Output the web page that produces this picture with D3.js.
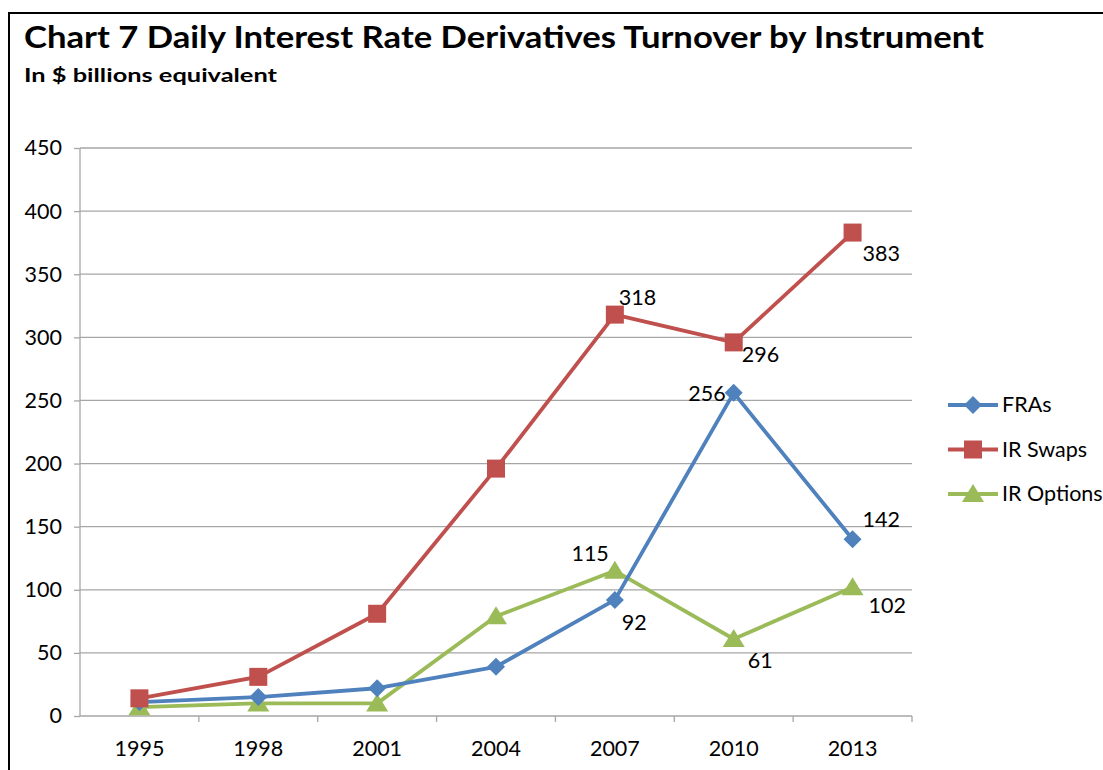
<!DOCTYPE html>
<html><head><meta charset="utf-8">
<script src="https://cdn.jsdelivr.net/npm/d3@7"></script>
<style>body{margin:0;background:#fff}svg{display:block}</style>
</head><body>
<script>
const years = ["1995","1998","2001","2004","2007","2010","2013"];
const fras = [11, 15, 22, 39, 92, 256, 140];
const swaps = [14, 31, 81, 196, 318, 296, 383];
const options = [7, 10, 10, 79, 115, 61, 102];
const seriesNames = ["FRAs","IR Swaps","IR Options"];
const yTicks = [0,50,100,150,200,250,300,350,400,450];
// labels shown: [seriesIndex, yearIndex, text, dx, dy, anchor]
const labels = [
  [1,4,"318",4,-10,"start"],[1,5,"296",8,20,"start"],[1,6,"383",10,28,"start"],
  [0,5,"256",-8,8,"end"],[0,6,"142",10,-12,"start"],[0,4,"92",7,30,"start"],
  [2,4,"115",-6,-10,"end"],[2,5,"61",14,29,"start"],[2,6,"102",16,26,"start"]
];
const colors = ["#4F81BD","#C0504D","#9BBB59"];
const data = [fras, swaps, options];
const W=1103,H=770;
const svg=d3.select("body").append("svg").attr("width",W).attr("height",H);
const font="Lato, 'Open Sans', sans-serif";
const fs=21.5;
// frame
svg.append("path").attr("d",`M9,${H} V13 H${W}`).attr("fill","none").attr("stroke","#000").attr("stroke-width",2);
svg.append("text").attr("x",24).attr("y",48).attr("font-family",font).attr("font-weight","bold")
  .attr("font-size",30).attr("textLength",960).attr("lengthAdjust","spacingAndGlyphs").attr("fill","#000")
  .text("Chart 7 Daily Interest Rate Derivatives Turnover by Instrument");
svg.append("text").attr("x",24).attr("y",82).attr("font-family",font).attr("font-weight","bold")
  .attr("font-size",18).attr("textLength",253).attr("lengthAdjust","spacingAndGlyphs").attr("fill","#000")
  .text("In $ billions equivalent");
const x=d3.scaleBand().domain(years).range([80,912]);
const y=d3.scaleLinear().domain([0,450]).range([716,148]);
const grid="#a6a6a6";
svg.append("g").selectAll("line").data(yTicks.filter(d=>d>0)).join("line")
  .attr("x1",80).attr("x2",912).attr("y1",d=>y(d)).attr("y2",d=>y(d)).attr("stroke",grid).attr("stroke-width",1.3);
const ya=svg.append("g").attr("transform","translate(80,0)").call(d3.axisLeft(y).tickValues(yTicks).tickSize(6).tickPadding(12));
const xa=svg.append("g").attr("transform","translate(0,716)").call(d3.axisBottom(x).tickSize(0).tickPadding(25));
[ya,xa].forEach(a=>{a.selectAll("path,line").attr("stroke",grid).attr("stroke-width",1.3);
  a.selectAll("text").attr("font-family",font).attr("font-size",fs).attr("fill","#000");});
ya.select(".domain").attr("d","M0,148V716");
xa.select(".domain").attr("d","M80,0H912");
// band boundary ticks
svg.append("g").selectAll("line").data(years.slice(1).concat(["end"])).join("line")
  .attr("x1",(d,i)=>i<6?x(d):912).attr("x2",(d,i)=>i<6?x(d):912).attr("y1",716).attr("y2",722)
  .attr("stroke",grid).attr("stroke-width",1.3);
const cx=d=>x(d)+x.bandwidth()/2;
function marker(g,i,px,py){
  if(i===0) g.append("path").attr("d",`M${px},${py-9}L${px+9},${py}L${px},${py+9}L${px-9},${py}Z`).attr("fill",colors[0]);
  else if(i===1) g.append("rect").attr("x",px-9).attr("y",py-9).attr("width",18).attr("height",18).attr("fill",colors[1]);
  else g.append("path").attr("d",`M${px},${py-10}L${px+11},${py+8}L${px-11},${py+8}Z`).attr("fill",colors[2]);
}
const order=[2,0,1];
order.forEach(i=>{
  const g=svg.append("g");
  g.append("path").datum(data[i]).attr("fill","none").attr("stroke",colors[i]).attr("stroke-width",3.8)
   .attr("stroke-linejoin","round")
   .attr("d",d3.line().x((d,j)=>cx(years[j])).y(d=>y(d)));
  data[i].forEach((v,j)=>marker(g,i,cx(years[j]),y(v)));
});
labels.forEach(([s,j,t,dx,dy,a])=>{
  svg.append("text").attr("x",cx(years[j])+dx).attr("y",y(data[s][j])+dy).attr("text-anchor",a)
   .attr("font-family",font).attr("font-size",fs).attr("fill","#000").text(t);
});
// legend
seriesNames.forEach((n,i)=>{
  const ly=405+i*44.5;
  const g=svg.append("g");
  g.append("line").attr("x1",948).attr("x2",998).attr("y1",ly).attr("y2",ly).attr("stroke",colors[i]).attr("stroke-width",3.8);
  marker(g,i,973,ly);
  g.append("text").attr("x",1002).attr("y",ly+7).attr("font-family",font).attr("font-size",fs).attr("fill","#000").text(n);
});
</script>
</body></html>
